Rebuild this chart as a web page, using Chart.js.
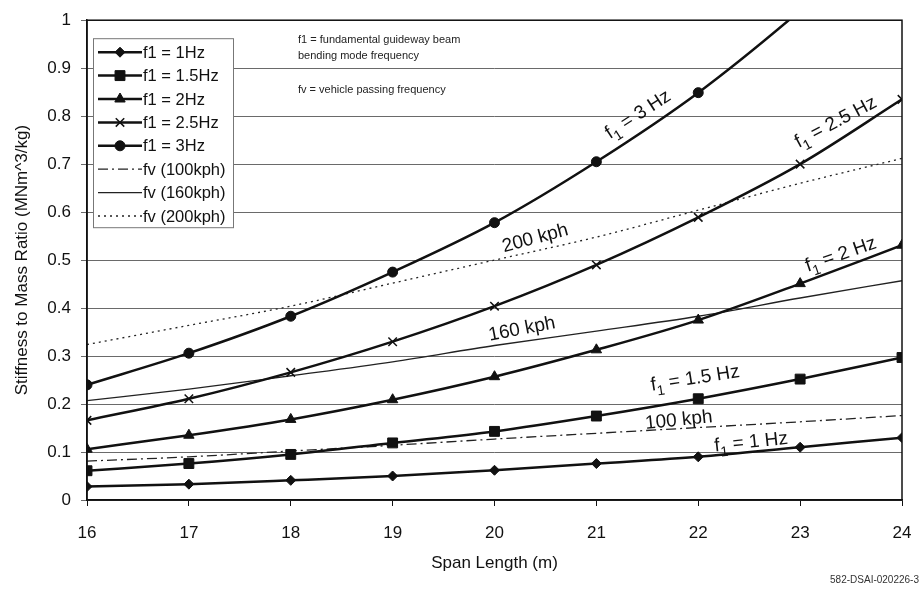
<!DOCTYPE html>
<html>
<head>
<meta charset="utf-8">
<script src="https://cdn.jsdelivr.net/npm/chart.js@4"></script>
<style>
  html, body { margin: 0; padding: 0; background: #fff; }
  #wrap { width: 923px; height: 594px; }
</style>
</head>
<body>
<div id="wrap"><canvas id="chart" width="923" height="594"></canvas></div>
<script>
// Span lengths (m) on the x axis
const spans = [16, 17, 18, 19, 20, 21, 22, 23, 24];
const yTicks = [0, 0.1, 0.2, 0.3, 0.4, 0.5, 0.6, 0.7, 0.8, 0.9, 1];

// Stiffness to mass ratio for each beam frequency
const f1_1Hz   = [0.028, 0.033, 0.041, 0.050, 0.062, 0.076, 0.090, 0.110, 0.130];
const f1_1_5Hz = [0.061, 0.076, 0.095, 0.119, 0.143, 0.175, 0.211, 0.252, 0.297];
const f1_2Hz   = [0.106, 0.135, 0.168, 0.209, 0.257, 0.313, 0.375, 0.451, 0.531];
const f1_2_5Hz = [0.166, 0.211, 0.266, 0.330, 0.404, 0.490, 0.589, 0.700, 0.835];
const f1_3Hz   = [0.240, 0.306, 0.383, 0.475, 0.578, 0.705, 0.849, 1.020, 1.210];

// Vehicle passing frequency lines
const fv_100kph = [0.081, 0.090, 0.102, 0.114, 0.127, 0.139, 0.151, 0.163, 0.176];
const fv_160kph = [0.207, 0.231, 0.259, 0.288, 0.322, 0.352, 0.383, 0.421, 0.457];
const fv_200kph = [0.324, 0.364, 0.404, 0.452, 0.500, 0.548, 0.604, 0.660, 0.712];

const FONT = '"Liberation Sans", Arial, sans-serif';

function pts(values) {
    return spans.map((x, i) => ({ x: x, y: values[i] }));
}

function beamSet(label, values, style, radius) {
    return {
        label: label,
        data: pts(values),
        borderColor: '#111',
        backgroundColor: '#111',
        borderWidth: 2.5,
        pointStyle: style,
        pointRadius: radius,
        pointBorderWidth: style === 'crossRot' ? 1.5 : 1,
        pointBackgroundColor: '#111',
        pointBorderColor: '#111',
        cubicInterpolationMode: 'monotone'
    };
}

function speedSet(label, values, dash) {
    return {
        label: label,
        data: pts(values),
        borderColor: '#222',
        borderWidth: 1.3,
        borderDash: dash,
        pointRadius: 0,
        cubicInterpolationMode: 'monotone'
    };
}

const datasets = [
    beamSet('f1 = 1Hz', f1_1Hz, 'rectRot', 5),
    beamSet('f1 = 1.5Hz', f1_1_5Hz, 'rect', 7),
    beamSet('f1 = 2Hz', f1_2Hz, 'triangle', 6),
    beamSet('f1 = 2.5Hz', f1_2_5Hz, 'crossRot', 6),
    beamSet('f1 = 3Hz', f1_3Hz, 'circle', 5),
    speedSet('fv (100kph)', fv_100kph, [10, 4, 2, 4]),
    speedSet('fv (160kph)', fv_160kph, []),
    speedSet('fv (200kph)', fv_200kph, [2, 4])
];

// Rotated labels sitting on the curves (data coords)
const curveLabels = [
    { parts: [['f', 0], ['1', 1], [' = 3 Hz', 0]], x: 21.41, y: 0.803, angle: -33 },
    { parts: [['f', 0], ['1', 1], [' = 2.5 Hz', 0]], x: 23.35, y: 0.787, angle: -28 },
    { parts: [['200 kph', 0]], x: 20.40, y: 0.545, angle: -15 },
    { parts: [['f', 0], ['1', 1], [' = 2 Hz', 0]], x: 23.40, y: 0.511, angle: -19 },
    { parts: [['160 kph', 0]], x: 20.27, y: 0.356, angle: -11 },
    { parts: [['f', 0], ['1', 1], [' = 1.5 Hz', 0]], x: 21.97, y: 0.253, angle: -9 },
    { parts: [['100 kph', 0]], x: 21.81, y: 0.166, angle: -6 },
    { parts: [['f', 0], ['1', 1], [' = 1 Hz', 0]], x: 22.52, y: 0.120, angle: -6 }
];

function drawMarker(ctx, ds, x, y) {
    if (!ds.pointRadius) return;
    ctx.save();
    ctx.fillStyle = ds.pointBackgroundColor;
    ctx.strokeStyle = ds.pointBorderColor;
    ctx.lineWidth = ds.pointBorderWidth;
    Chart.helpers.drawPoint(ctx, {
        pointStyle: ds.pointStyle,
        radius: ds.pointRadius,
        rotation: 0,
        borderWidth: ds.pointBorderWidth
    }, x, y);
    ctx.restore();
}

const extrasPlugin = {
    id: 'extras',
    afterDraw(chart) {
        const ctx = chart.ctx;
        const xs = chart.scales.x;
        const ys = chart.scales.y;
        const area = chart.chartArea;

        // plot border
        ctx.save();
        ctx.strokeStyle = '#111';
        ctx.lineWidth = 1.5;
        ctx.strokeRect(area.left, area.top, area.right - area.left, area.bottom - area.top);
        ctx.restore();

        // legend box
        const lx = area.left + 6, ly = area.top + 18, lw = 140, lh = 189;
        ctx.save();
        ctx.fillStyle = '#fff';
        ctx.fillRect(lx, ly, lw, lh);
        ctx.strokeStyle = '#777';
        ctx.lineWidth = 1;
        ctx.strokeRect(lx + 0.5, ly + 0.5, lw, lh);
        ctx.font = '16.5px ' + FONT;
        ctx.textBaseline = 'middle';
        ctx.textAlign = 'left';
        chart.data.datasets.forEach((ds, i) => {
            const rowY = ly + 14 + i * 23.4;
            ctx.save();
            ctx.strokeStyle = ds.borderColor;
            ctx.lineWidth = ds.borderWidth;
            ctx.setLineDash(ds.borderDash || []);
            ctx.beginPath();
            ctx.moveTo(lx + 5, rowY);
            ctx.lineTo(lx + 49, rowY);
            ctx.stroke();
            ctx.restore();
            drawMarker(ctx, ds, lx + 27, rowY);
            ctx.fillStyle = '#111';
            ctx.fillText(ds.label, lx + 50, rowY + 1);
        });
        ctx.restore();

        // notes
        ctx.save();
        ctx.fillStyle = '#222';
        ctx.font = '11px ' + FONT;
        ctx.textBaseline = 'middle';
        ctx.fillText('f1 = fundamental guideway beam', area.left + 211, area.top + 20);
        ctx.fillText('bending mode frequency', area.left + 211, area.top + 36);
        ctx.fillText('fv = vehicle passing frequency', area.left + 211, area.top + 70);
        ctx.restore();

        // labels along the curves
        curveLabels.forEach(lab => {
            ctx.save();
            ctx.translate(xs.getPixelForValue(lab.x), ys.getPixelForValue(lab.y));
            ctx.rotate(lab.angle * Math.PI / 180);
            ctx.fillStyle = '#111';
            ctx.textBaseline = 'middle';
            let total = 0;
            lab.parts.forEach(p => {
                ctx.font = (p[1] ? '14px ' : '19px ') + FONT;
                total += ctx.measureText(p[0]).width;
            });
            let cx = -total / 2;
            lab.parts.forEach(p => {
                ctx.font = (p[1] ? '14px ' : '19px ') + FONT;
                ctx.fillText(p[0], cx, p[1] ? 7 : 0);
                cx += ctx.measureText(p[0]).width;
            });
            ctx.restore();
        });

        // figure id
        ctx.save();
        ctx.fillStyle = '#333';
        ctx.font = '10px ' + FONT;
        ctx.textAlign = 'right';
        ctx.textBaseline = 'middle';
        ctx.fillText('582-DSAI-020226-3', chart.width - 4, chart.height - 14);
        ctx.restore();
    }
};

new Chart(document.getElementById('chart').getContext('2d'), {
    type: 'line',
    data: { datasets: datasets },
    plugins: [extrasPlugin],
    options: {
        responsive: false,
        animation: false,
        layout: { padding: { top: 14, right: 21, left: 0, bottom: 0 } },
        plugins: {
            legend: { display: false },
            tooltip: { enabled: false }
        },
        scales: {
            x: {
                type: 'linear',
                min: spans[0],
                max: spans[spans.length - 1],
                afterBuildTicks: s => { s.ticks = spans.map(v => ({ value: v })); },
                afterFit: s => {
                    s.height = 94;
                    s.paddingLeft = 0;
                    s.paddingRight = 0;
                },
                grid: {
                    drawOnChartArea: false,
                    drawTicks: true,
                    tickLength: 6,
                    color: '#111'
                },
                border: { color: '#111', width: 1.5 },
                ticks: {
                    color: '#111',
                    padding: 17,
                    font: { family: FONT, size: 17 },
                    callback: v => String(v)
                },
                title: {
                    display: true,
                    text: 'Span Length (m)',
                    color: '#111',
                    font: { family: FONT, size: 17 },
                    padding: { top: 6, bottom: 20 }
                }
            },
            y: {
                min: 0,
                max: 1,
                afterBuildTicks: s => { s.ticks = yTicks.map(v => ({ value: v })); },
                afterFit: s => { s.width = 87; },
                grid: {
                    color: '#6a6a6a',
                    lineWidth: 1,
                    tickLength: 6
                },
                border: { color: '#111', width: 1.5 },
                ticks: {
                    color: '#111',
                    padding: 10,
                    font: { family: FONT, size: 17 },
                    callback: v => String(Math.round(v * 10) / 10)
                },
                title: {
                    display: true,
                    text: 'Stiffness to Mass Ratio (MNm^3/kg)',
                    color: '#111',
                    font: { family: FONT, size: 17 },
                    padding: { top: 12, bottom: 2 }
                }
            }
        }
    }
});
</script>
</body>
</html>
